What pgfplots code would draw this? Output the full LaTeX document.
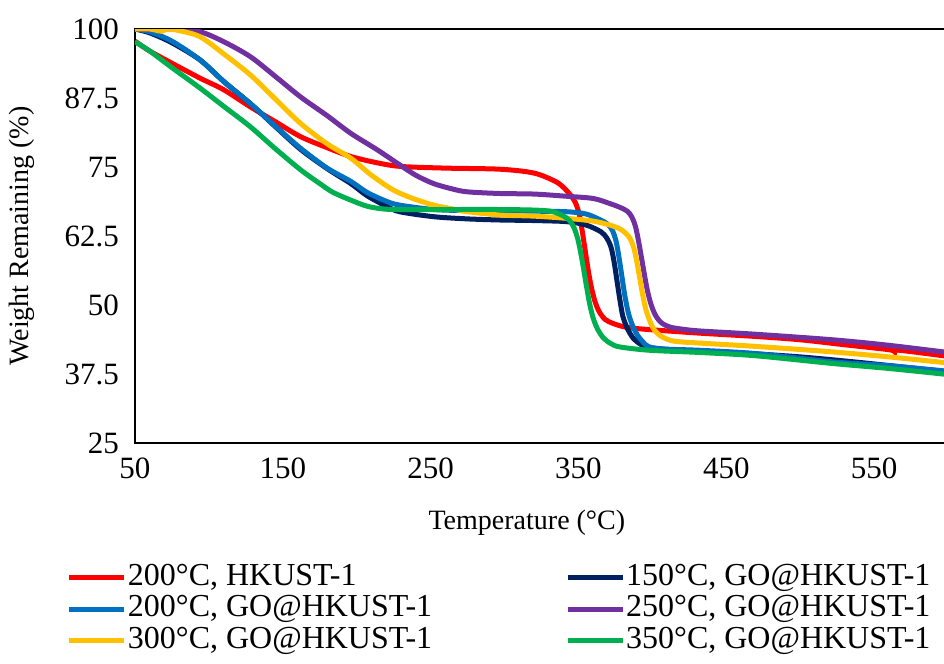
\documentclass[border=0pt]{standalone}
\usepackage{fontspec}
\setmainfont{Liberation Serif}
\usepackage{pgfplots}
\pgfplotsset{compat=1.18}
\definecolor{cRed}{HTML}{FF0000}
\definecolor{cNavy}{HTML}{002060}
\definecolor{cBlue}{HTML}{0070C0}
\definecolor{cPurple}{HTML}{7030A0}
\definecolor{cYellow}{HTML}{FFC000}
\definecolor{cGreen}{HTML}{00B050}
\begin{document}
\begin{tikzpicture}
\begin{axis}[
  scale only axis, width=406.5pt, height=207pt,
  at={(0,0)}, anchor=south west,
  xmin=50, xmax=600, ymin=25, ymax=100,
  xtick={50,150,...,550}, ytick={25,37.5,50,62.5,75,87.5,100},
  major tick length=0pt,
  axis line style={line width=1.3pt, black},
  /pgf/number format/assume math mode=true,
  tick label style={font=\fontsize{15.5}{18}\selectfont},
  yticklabel style={xshift=-4.5pt},
  xticklabel style={yshift=-4pt},
  label style={font=\fontsize{14}{17}\selectfont},
  xlabel={Temperature (°C)},
  ylabel={Weight Remaining (\%)},
  xlabel style={at={(axis description cs:0.482,-0.193)}, anchor=center},
  ylabel style={at={(axis description cs:-0.139,0.5)}, anchor=center},
  every axis plot/.append style={line width=2.5pt, smooth, no marks},
  legend columns=2,
  legend cell align=left,
  legend image code/.code={\draw[#1] (0pt,0pt) -- (27.5pt,0pt);},
  legend style={draw=none, fill=none, inner sep=0pt, outer sep=0pt,
    at={(axis description cs:0,0)}, anchor=north west,
    xshift=-34pt, yshift=-59.5pt,
    font=\fontsize{16}{19}\selectfont,
    /tikz/column sep=0pt,
    /tikz/column 2/.style={column sep=66pt},
    nodes={inner xsep=0.5pt, inner ysep=0pt, text height=11.5pt, text depth=4.25pt}},
]
\addplot[cRed] coordinates {
(50,97.8) (60,96.0) (75,93.8) (94,91.1) (110,89.0) (128,85.9) (145,83.2) (162,80.5) (180,78.5) (196,76.9) (215,75.7) (230,75.1) (260,74.8) (297,74.6) (320,73.9) (335,72.3) (341,71) (345,69.8) (348,68.5) (350.5,66.5) (352.5,63.5) (354.5,60) (356.5,56.5) (358.5,53.5) (361,50.8) (364,48.8) (368,47.4) (373,46.7) (380,46.1) (387,45.8) (400,45.5) (432,44.9) (470,44.3) (500,43.7) (530,42.8) (560,41.9) (564,41.5) (567,41.8) (597,40.8) (600,40.7)};
\addlegendentry{200°C, HKUST-1}
\addplot[cNavy] coordinates {
(50,100) (60,99.3) (75,97.5) (94,94.4) (110,90.5) (128,86.5) (145,82.3) (162,78.2) (180,74.7) (196,72.0) (207,69.8) (220,67.9) (229,66.9) (252,66.0) (275,65.6) (297,65.4) (320,65.3) (342,65.1) (355,64.5) (365,63.3) (369,62.2) (372,60.5) (374,58) (376,54.5) (378,51) (380,48) (383,45.8) (387,44.0) (392,42.9) (398,42.2) (420,41.8) (460,41.3) (500,40.6) (540,39.6) (600,37.9)};
\addlegendentry{150°C, GO@HKUST-1}
\addplot[cBlue] coordinates {
(50,100) (60,99.5) (75,97.8) (94,94.4) (110,90.5) (128,86.5) (145,82.4) (162,78.4) (180,74.8) (196,72.4) (207,70.4) (220,68.8) (229,68.1) (252,67.3) (275,67.1) (297,67.1) (320,67.0) (342,66.9) (355,66.5) (365,65.4) (370,64.6) (373,63.5) (375.5,61.5) (377.5,58.5) (379.5,55) (381.5,51.5) (384,48.3) (387,46) (390,44.5) (394,43.2) (398,42.4) (410,42.0) (432,41.8) (470,41.2) (522,39.7) (560,39.0) (600,38.0)};
\addlegendentry{200°C, GO@HKUST-1}
\addplot[cPurple] coordinates {
(50,100) (60,100) (75,100) (94,99.5) (110,97.7) (128,95) (145,91.4) (162,87.7) (180,84.3) (196,81.1) (214,78.1) (229,75.4) (240,73.5) (252,72.0) (265,71.0) (275,70.5) (297,70.2) (320,70.1) (342,69.7) (360,69.3) (371,68.4) (378,67.7) (383,67) (386,66) (388.5,64.3) (390.5,61.8) (392.5,58.8) (394.5,55.7) (396.5,52.8) (399,50.2) (402,48.2) (406,46.8) (412,46) (421,45.6) (432,45.3) (470,44.7) (522,43.7) (560,42.7) (600,41.4)};
\addlegendentry{250°C, GO@HKUST-1}
\addplot[cYellow] coordinates {
(50,100) (60,100) (68,99.6) (72,100) (80,99.7) (94,98.6) (110,95.5) (128,91.7) (145,87.3) (162,82.9) (180,79.2) (196,76.6) (210,73.5) (225,70.8) (238,69.3) (252,68.1) (265,67.4) (275,66.9) (297,66.3) (320,66.1) (342,65.7) (360,65.2) (371,64.5) (378,63.8) (382,63) (385,62) (387.5,60.3) (389.5,57.8) (391.5,54.8) (393.5,51.8) (395.5,49.3) (398,47.3) (401,45.6) (405,44.5) (410,43.8) (416,43.4) (432,43.1) (470,42.5) (522,41.5) (560,40.6) (600,39.5)};
\addlegendentry{300°C, GO@HKUST-1}
\addplot[cGreen] coordinates {
(50,97.7) (60,96.0) (75,93.0) (94,89.3) (110,86.0) (128,82.3) (145,78.3) (162,74.5) (175,72.0) (184,70.4) (196,69.0) (207,67.9) (218,67.4) (229,67.3) (260,67.3) (297,67.3) (320,67.2) (331,67.0) (336,66.6) (340,66.1) (344,65.3) (347,64) (349.5,62) (351.5,59.5) (353.5,56.5) (355.5,53.3) (357.5,50.3) (360,47.6) (363,45.6) (367,44) (372,43) (378,42.4) (398,41.8) (432,41.4) (470,40.8) (522,39.4) (560,38.5) (600,37.4)};
\addlegendentry{350°C, GO@HKUST-1}
\end{axis}
\pgfresetboundingbox
\path[use as bounding box] (-67.5pt,-110.5pt) rectangle (404.5pt,221.5pt);
\end{tikzpicture}
\end{document}
